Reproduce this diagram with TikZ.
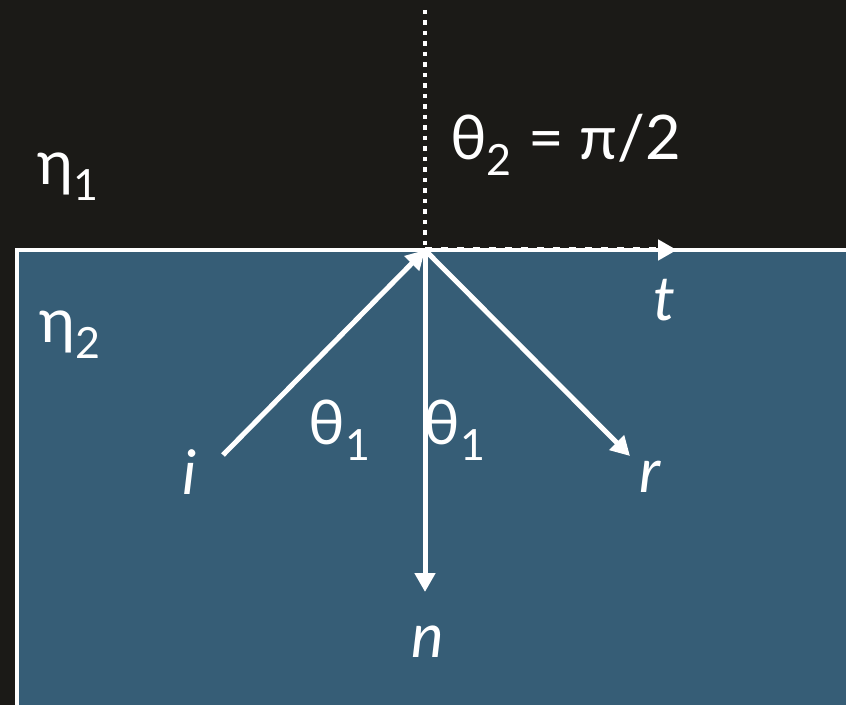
\documentclass[tikz,border=0pt]{standalone}
\usepackage{fontspec}
\setmainfont{Lato}
\usepackage{tikz}
\usetikzlibrary{arrows.meta, positioning}
\definecolor{asphalt}{RGB}{27,26,23}
\definecolor{water}{RGB}{54,93,118}

\begin{document}
\begin{tikzpicture}[
		x=0.02cm, y=-0.02cm,
		every node/.style={font=\fontsize{35}{42}\selectfont, text=white},
		ray/.style={white, line width=0.1cm, -{Triangle[length=0.38cm, width=0.4cm]}},
		normalline/.style={white, line width=0.09cm, dash pattern=on 0.09cm off 0.12cm},
		grazing/.style={white, line width=0.1cm, dash pattern=on 0.14cm off 0.18cm, -{Triangle[length=0.38cm, width=0.4cm]}}
	]
	\useasboundingbox (0,0) rectangle (846,705);
	% the two media
	\fill[asphalt] (0,0) rectangle (846,705);
	\fill[water] (17,250) rectangle (846,705);
	\draw[white, line width=0.09cm] (17,710) -- (17,250) -- (850,250);

	\coordinate (O) at (425,250);
	\coordinate (normaltop) at (425,10);
	\coordinate (itail) at (223,455);
	\coordinate (nhead) at (425,592);
	\coordinate (rhead) at (630,456);
	\coordinate (thead) at (677,250);

	\draw[normalline] (normaltop) -- (O);
	\draw[grazing] (O) -- (thead);
	\draw[ray] (itail) -- (O);
	\draw[ray] (O) -- (nhead);
	\draw[ray] (O) -- (rhead);

	\node (eta1) at (68,177) {η\textsubscript{1}};
	\node (eta2) at (70,335) {η\textsubscript{2}};
	\node[anchor=west] (theta2) at (444,145) {θ\textsubscript{2} = π/2};
	\node (tlabel) at (664,300) {\textit{t}};
	\node (theta1i) at (340,430) {θ\textsubscript{1}};
	\node (theta1r) at (455,430) {θ\textsubscript{1}};
	\node (ilabel) at (190,472) {\textit{i}};
	\node (rlabel) at (650,477) {\textit{r}};
	\node (nlabel) at (428,642) {\textit{n}};
\end{tikzpicture}
\end{document}
